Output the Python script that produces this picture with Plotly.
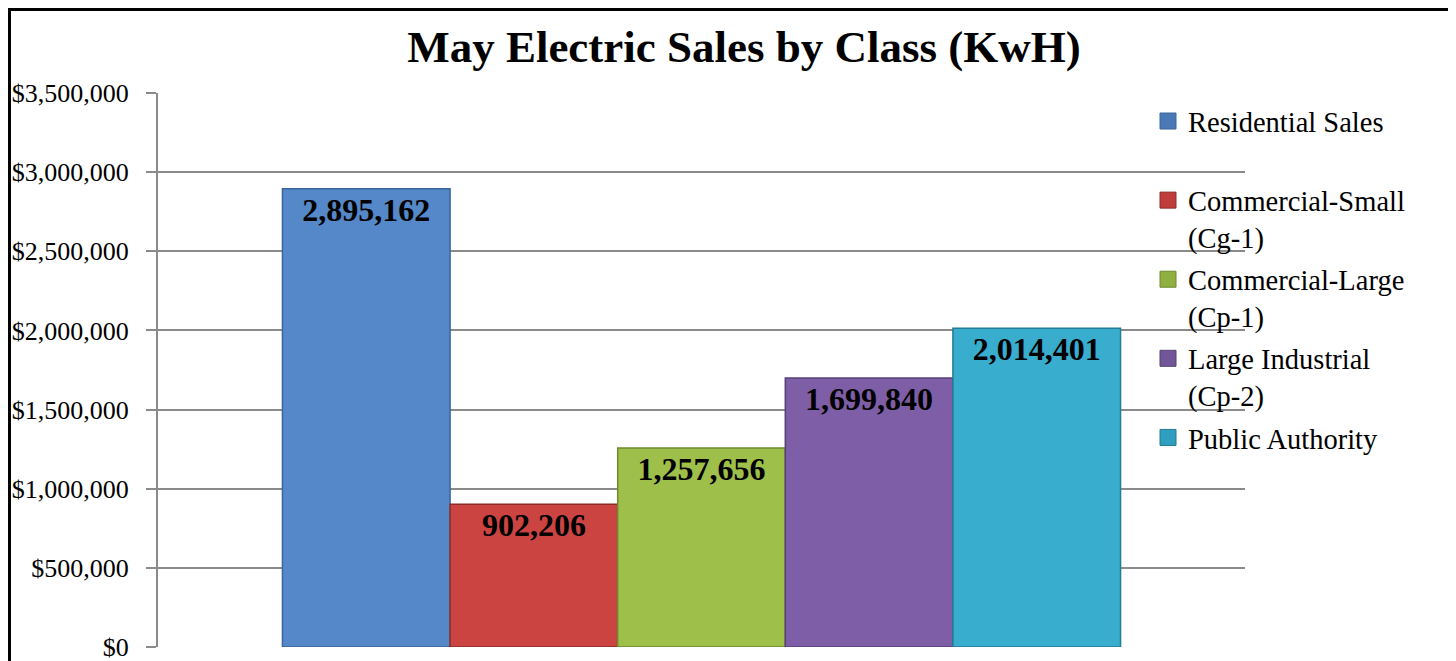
import plotly.graph_objects as go

# ---- data ----
series_names = [
    "Residential Sales<br> ",
    "Commercial-Small<br>(Cg-1)",
    "Commercial-Large<br>(Cp-1)",
    "Large Industrial<br>(Cp-2)",
    "Public Authority",
]
series_values = [2895162, 902206, 1257656, 1699840, 2014401]
category = [""]
y_ticks = [0, 500000, 1000000, 1500000, 2000000, 2500000, 3000000, 3500000]
y_tick_labels = ["$" + f"{v:,}" for v in y_ticks]

# ---- styles ----
fill_colors = ["#5588C8", "#CB4441", "#9FBF4B", "#7E5EA7", "#38ADCE"]
edge_colors = ["#3A6698", "#8E2B29", "#6E8A2E", "#574077", "#227C96"]
legend_colors = ["#4A78B4", "#C03C3A", "#8FB040", "#73559A", "#2F9EBF"]
FONT = "Liberation Serif"
GRID = "#8a8a8a"

W, H = 1456, 661
OFF = 8  # page body margin: screen = figure + OFF
L, R, T, B = 158 - OFF, 1245 - OFF, 93 - OFF, 647 - OFF

def px_x(p):  # screen px -> paper
    return (p - OFF - L) / (R - L)

def px_y(p):
    return (B - (p - OFF)) / (B - T)

fig = go.Figure()
for name, val, fc, ec in zip(series_names, series_values, fill_colors, edge_colors):
    fig.add_trace(go.Bar(
        x=category, y=[val], name=name, legendgroup=name, showlegend=False,
        marker=dict(color=fc, line=dict(color=ec, width=1.5)),
        texttemplate="%{y:,}", textposition="inside", insidetextanchor="end",
        textangle=0, constraintext="none",
        textfont=dict(family=FONT, size=32, color="black", weight="bold"),
    ))
# legend entries with larger square symbols
for name, lc, ec in zip(series_names, legend_colors, edge_colors):
    fig.add_trace(go.Scatter(
        x=[None], y=[None], mode="markers", name=name, legendgroup=name,
        marker=dict(symbol="square", size=18, color=lc, line=dict(color=ec, width=1)),
    ))

fig.update_layout(
    width=W, height=H,
    margin=dict(l=L, r=W - R, t=T, b=H - B, pad=0, autoexpand=False),
    paper_bgcolor="white", plot_bgcolor="white",
    barmode="group", bargap=0.229, bargroupgap=0,
    font=dict(family=FONT, color="black"),
    title=dict(text="May Electric Sales by Class (KwH)",
               font=dict(family=FONT, size=45, color="black", weight="bold"),
               x=(744 - OFF) / W, xanchor="center", y=1 - (46 - OFF) / H, yanchor="middle"),
    legend=dict(x=px_x(1148), xanchor="left", y=px_y(96), yanchor="top",
                font=dict(family=FONT, size=28.5, color="black"),
                valign="top", tracegroupgap=2, bgcolor="rgba(0,0,0,0)",
                itemwidth=30),
    showlegend=True,
    xaxis=dict(showticklabels=False, showgrid=False, zeroline=False, showline=False,
               ticks="", automargin=False),
    yaxis=dict(range=[0, 3500000], tickvals=y_ticks, ticktext=y_tick_labels,
               automargin=False,
               showgrid=True, gridcolor=GRID, gridwidth=2, zeroline=False,
               showline=True, linecolor=GRID, linewidth=2,
               ticks="outside", ticklen=10, tickcolor=GRID, tickwidth=2,
               ticklabelstandoff=12,
               tickfont=dict(family=FONT, size=26, color="black")),
    shapes=[dict(type="rect", xref="paper", yref="paper",
                 x0=px_x(9.5), x1=px_x(1480), y0=px_y(9.5), y1=px_y(720),
                 line=dict(color="black", width=3), fillcolor="rgba(0,0,0,0)",
                 layer="above")],
)

fig.write_html("out.html")
